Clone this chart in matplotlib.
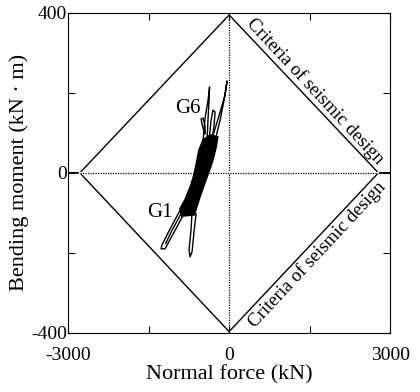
import numpy as np
import matplotlib.pyplot as plt

plt.rcParams['font.family'] = ['Liberation Serif', 'DejaVu Serif']

# criteria of seismic design (diamond vertices)
crit_N = [-3000, -2780, 0, 2780, 3000]
crit_M_up = [0, 0, 395, 0, 0]
crit_M_dn = [0, 0, -397, 0, 0]

# hysteresis traces G1 ... G6 (N in kN, M in kN*m)
# dense core where the loops overlap
blob_N = [-880, -650, -560, -465, -375, -300, -245, -210, -350, -480, -560, -615, -655, -710, -820, -915]
blob_M = [-108, -105, -67, -30, 3, 33, 63, 90, 95, 83, 58, 20, -5, -30, -67, -90]

spike_top_N = [-280, -168, -94, -38, -75, -168, -280, -355]
spike_top_M = [70, 132, 182, 230, 195, 152, 102, 70]

g6_N = [-485, -448, -392, -364, -373, -392, -410]
g6_M = [82, 137, 182, 215, 182, 137, 82]

loop6_N = [-373, -336, -299, -261, -280, -317, -373]
loop6_M = [82, 132, 157, 152, 120, 82, 82]

small_N = [-466, -504, -522, -485, -448, -448, -466]
small_M = [102, 122, 135, 137, 117, 97, 102]

g1_N = [-858, -1007, -1137, -1249, -1267, -1193, -1081, -951, -802]
g1_M = [-80, -117, -150, -180, -190, -190, -162, -130, -92]

g1_inner_N = [-840, -960, -1080, -1180]
g1_inner_M = [-88, -118, -148, -176]

spike_low_N = [-690, -709, -746, -728, -690, -653, -615]
spike_low_M = [-97, -142, -192, -210, -197, -147, -102]

fig = plt.figure(figsize=(4.2, 3.92), dpi=100)
ax = fig.add_axes([0.162, 0.151, 0.767, 0.816])

ax.plot(crit_N, crit_M_up, color='black', lw=1.0)
ax.plot(crit_N, crit_M_dn, color='black', lw=1.0)
ax.plot([crit_N[1], crit_N[3]], [0, 0], color='white', lw=1.6, zorder=2.1)
ax.plot([crit_N[1], crit_N[3]], [0, 0], color='black', lw=0.9, ls=(0, (1, 1)), zorder=2.2)
ax.axvline(0, color='black', lw=0.9, ls=(0, (1, 1)))

ax.fill(blob_N, blob_M, color='black', lw=1.2, zorder=3)
for xs, ys in [(spike_top_N, spike_top_M), (g6_N, g6_M), (loop6_N, loop6_M),
               (small_N, small_M), (g1_N, g1_M), (g1_inner_N, g1_inner_M),
               (spike_low_N, spike_low_M)]:
    ax.plot(xs, ys, color='black', lw=1.0, solid_joinstyle='round', zorder=3)

ax.text(-764, 162, 'G6', fontsize=15, ha='center', va='center')
ax.text(-1290, -100, 'G1', fontsize=15, ha='center', va='center')

ax.text(1600, 205, 'Criteria of seismic design', fontsize=13.5, rotation=-47,
        ha='center', va='center', rotation_mode='anchor')
ax.text(1640, -205, 'Criteria of seismic design', fontsize=13.5, rotation=47,
        ha='center', va='center', rotation_mode='anchor')

ax.set_xlim(-3000, 3000)
ax.set_ylim(-400, 400)
ax.set_xticks([-3000, -1500, 0, 1500, 3000])
ax.set_xticklabels(['-3000', '', '0', '', '3000'])
ax.set_yticks([-400, -200, 0, 200, 400])
ax.set_yticklabels(['-400', '', '0', '', '400'])
ax.tick_params(direction='in', top=True, right=True, labelsize=14, length=5)
ax.tick_params(axis='x', pad=10)
ax.tick_params(axis='y', pad=1)
ax.set_xlabel('Normal force (kN)', fontsize=16, labelpad=1)
ax.set_ylabel('Bending moment (kN · m)', fontsize=16, labelpad=1)

fig.savefig('out.png', dpi=100)
